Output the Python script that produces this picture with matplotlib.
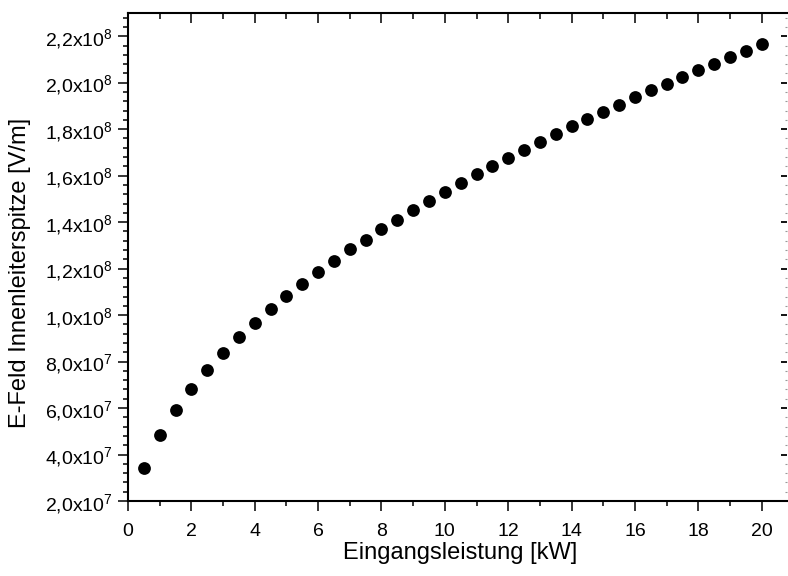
import numpy as np
import matplotlib
matplotlib.use("Agg")
import matplotlib.pyplot as plt
from matplotlib.ticker import MultipleLocator, FuncFormatter

plt.rcParams['font.family'] = ['Liberation Sans', 'DejaVu Sans']
plt.rcParams['mathtext.fontset'] = 'custom'
plt.rcParams['mathtext.rm'] = 'Liberation Sans'
plt.rcParams['mathtext.default'] = 'regular'

# Eingangsleistung [kW]
leistung = [0.5, 1.0, 1.5, 2.0, 2.5, 3.0, 3.5, 4.0, 4.5, 5.0,
            5.5, 6.0, 6.5, 7.0, 7.5, 8.0, 8.5, 9.0, 9.5, 10.0,
            10.5, 11.0, 11.5, 12.0, 12.5, 13.0, 13.5, 14.0, 14.5, 15.0,
            15.5, 16.0, 16.5, 17.0, 17.5, 18.0, 18.5, 19.0, 19.5, 20.0]
# E-Feld an der Innenleiterspitze [V/m]
efeld = [3.41e7, 4.84e7, 5.92e7, 6.82e7, 7.64e7, 8.39e7, 9.05e7, 9.67e7, 1.026e8, 1.082e8,
         1.132e8, 1.185e8, 1.234e8, 1.284e8, 1.324e8, 1.370e8, 1.410e8, 1.453e8, 1.492e8, 1.531e8,
         1.568e8, 1.607e8, 1.643e8, 1.676e8, 1.712e8, 1.746e8, 1.779e8, 1.812e8, 1.844e8, 1.876e8,
         1.906e8, 1.937e8, 1.967e8, 1.996e8, 2.025e8, 2.055e8, 2.082e8, 2.111e8, 2.138e8, 2.166e8]


def sci_komma(v, pos):
    if v <= 0:
        return "0"
    e = int(np.floor(np.log10(v) + 1e-9))
    m = v / 10**e
    return ("%.1f" % m).replace(".", ",") + "x10$^{%d}$" % e


fig = plt.figure(figsize=(7.88, 5.76), dpi=100)
ax = fig.add_axes([0.16244, 0.13021, 0.83629, 0.84722])

ax.plot(leistung, efeld, 'o', color='black', ms=9.2, mec='none')

ax.set_xlim(0, 20.8)
ax.set_ylim(2e7, 2.3e8)
ax.xaxis.set_major_locator(MultipleLocator(2))
ax.xaxis.set_minor_locator(MultipleLocator(1))
ax.yaxis.set_major_locator(MultipleLocator(2e7))
ax.yaxis.set_minor_locator(MultipleLocator(4e6))
ax.yaxis.set_major_formatter(FuncFormatter(sci_komma))

for s in ['left', 'bottom', 'top']:
    ax.spines[s].set_linewidth(1.5)
ax.spines['right'].set_visible(False)

ax.tick_params(which='major', direction='out', length=7, width=1.1,
               labelsize=14, pad=4, colors='black')
ax.tick_params(which='minor', direction='out', length=3.6, width=1.1)
ax.tick_params(axis='x', which='major', pad=8.5)

top = ax.secondary_xaxis('top')
top.xaxis.set_major_locator(MultipleLocator(2))
top.xaxis.set_minor_locator(MultipleLocator(1))
top.tick_params(which='major', direction='in', length=7, width=1.1, labeltop=False)
top.tick_params(which='minor', direction='in', length=4.3, width=1.1)
top.spines['top'].set_visible(False)

rechts = ax.secondary_yaxis('right')
rechts.yaxis.set_major_locator(MultipleLocator(2e7))
rechts.yaxis.set_minor_locator(MultipleLocator(4e6))
rechts.tick_params(which='major', direction='in', length=4, width=1.3, labelright=False)
rechts.tick_params(which='minor', direction='in', length=1.2, width=0.8, color='#999999')
rechts.spines['right'].set_visible(False)

ax.set_xlabel("Eingangsleistung [kW]", fontsize=17, va='top')
ax.xaxis.set_label_coords(0.504, -0.085)
ax.set_ylabel("E-Feld Innenleiterspitze [V/m]", fontsize=17, va='center')
ax.yaxis.set_label_coords(-0.164, 0.468)

fig.savefig("out.png", dpi=100)
